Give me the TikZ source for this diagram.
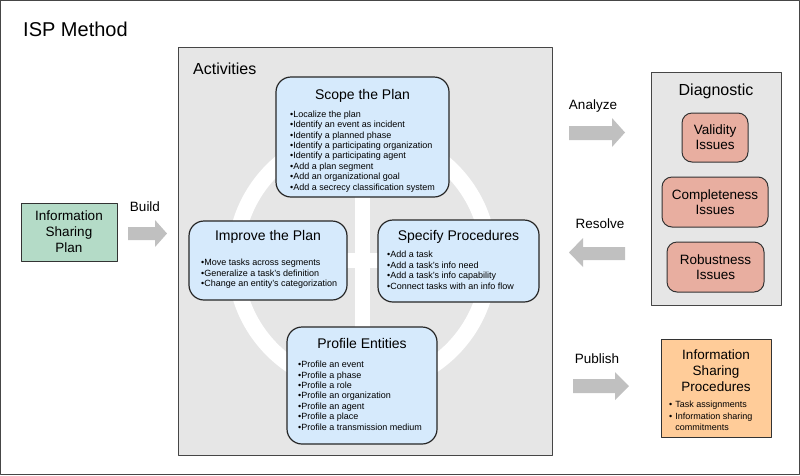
\documentclass[tikz,border=0pt]{standalone}
\usepackage{fontspec}
\setmainfont{Liberation Sans}
\usetikzlibrary{positioning}

\definecolor{panelgray}{RGB}{230,230,230}
\definecolor{frameline}{RGB}{70,70,70}
\definecolor{actblue}{RGB}{214,234,252}
\definecolor{plangreen}{RGB}{180,219,199}
\definecolor{issuered}{RGB}{232,174,160}
\definecolor{procorange}{RGB}{255,204,153}
\definecolor{arrowgray}{RGB}{192,192,192}

\begin{document}
\begin{tikzpicture}[x=1pt, y=-1pt, line join = round,
  panel/.style={draw=frameline, fill=panelgray, line width=1pt},
  activity/.style={draw=black!85, fill=actblue, rounded corners=15pt, line width=1.2pt, inner sep=0pt},
  acttitle/.style={font=\fontsize{14}{16}\selectfont, anchor=base, inner sep=0pt},
  actitems/.style={font=\fontsize{9}{10.4}\selectfont, align=left, anchor=base west, inner sep=0pt},
  issue/.style={draw=black!80, fill=issuered, rounded corners=10pt, line width=1pt, align=center,
    font=\fontsize{13.5}{15}\selectfont, inner sep=0pt},
  flowlabel/.style={font=\fontsize{13.5}{15}\selectfont, anchor=base, inner sep=0pt},
  blockarrow/.style={fill=arrowgray}]

\useasboundingbox (0,0) rectangle (800,475);
\draw[frameline, line width=1pt] (0.5,0.5) rectangle (799.5,474.5); % outer frame

% title
\node[font=\fontsize{20}{22}\selectfont, anchor=base west, inner sep=0pt] (method) at (23,36) {ISP Method};

% panels
\draw[panel] (178,47) rectangle (552,455); % activities
\draw[panel] (651,72) rectangle (781,305); % diagnostic
\node[font=\fontsize{16}{18}\selectfont, anchor=base west, inner sep=0pt] (activities) at (193,74) {Activities};
\node[font=\fontsize{16}{18}\selectfont, anchor=base, inner sep=0pt] (diagnostic) at (716,95) {Diagnostic};

% white cycle behind the activities
\draw[white, line width=16pt] (362,260) circle[radius=127pt];
\draw[white, line width=15pt] (362,133) -- (362,387); % vertical bar
\draw[white, line width=15pt] (235,260) -- (489,260); % horizontal bar

% activity boxes
\node[activity, minimum width=173pt, minimum height=120pt] (scope) at (362.5,137) {};
\node[activity, minimum width=158pt, minimum height=79pt] (improve) at (268,260.5) {};
\node[activity, minimum width=161pt, minimum height=82pt] (specify) at (458.5,261) {};
\node[activity, minimum width=150pt, minimum height=117pt] (profile) at (362,385.5) {};

% activity titles
\node[acttitle] (scope title) at (362.5,99) {Scope the Plan};
\node[acttitle] (improve title) at (268,240) {Improve the Plan};
\node[acttitle] (specify title) at (458.5,240) {Specify Procedures};
\node[acttitle] (profile title) at (362,348) {Profile Entities};

% activity items (base = last line)
\node[actitems] (scope items) at (290,190) {\textbullet Localize the plan\\\textbullet Identify an event as incident\\\textbullet Identify a planned phase\\\textbullet Identify a participating organization\\\textbullet Identify a participating agent\\\textbullet Add a plan segment\\\textbullet Add an organizational goal\\\textbullet Add a secrecy classification system};
\node[actitems] (improve items) at (201,286.5) {\textbullet Move tasks across segments\\\textbullet Generalize a task's definition\\\textbullet Change an entity's categorization};
\node[actitems] (specify items) at (387,289) {\textbullet Add a task\\\textbullet Add a task's info need\\\textbullet Add a task's info capability\\\textbullet Connect tasks with an info flow};
\node[actitems] (profile items) at (298,430) {\textbullet Profile an event\\\textbullet Profile a phase\\\textbullet Profile a role\\\textbullet Profile an organization\\\textbullet Profile an agent\\\textbullet Profile a place\\\textbullet Profile a transmission medium};

% input plan
\node[draw=black!80, fill=plangreen, line width=1pt, minimum width=96pt, minimum height=58pt, align=center,
  font=\fontsize{13.5}{16}\selectfont, inner sep=0pt] (plan) at (69,232) {Information\\Sharing\\Plan};

% diagnostic issues
\node[issue, minimum width=66pt, minimum height=49pt] (validity) at (715,137.5) {Validity\\Issues};
\node[issue, minimum width=106pt, minimum height=50pt] (completeness) at (715,202) {Completeness\\Issues};
\node[issue, minimum width=97pt, minimum height=50pt] (robustness) at (715.5,267) {Robustness\\Issues};

% output procedures
\node[draw=black!80, fill=procorange, line width=1pt, minimum width=110pt, minimum height=98pt, inner sep=0pt] (procedures) at (716,388) {};
\node[font=\fontsize{13.5}{16}\selectfont, align=center, anchor=base, inner sep=0pt] (procedures title) at (716,391) {Information\\Sharing\\Procedures};
\node[font=\fontsize{9}{11.5}\selectfont, anchor=north west, inner sep=0pt] (procedures items) at (669,399.5)
  {\begin{tabular}{@{}l@{\hspace{3pt}}l@{}}\textbullet & Task assignments\\ \textbullet & Information sharing\\ & commitments\end{tabular}};

% flow labels
\node[flowlabel] (build) at (145,211) {Build};
\node[flowlabel] (analyze) at (593,109) {Analyze};
\node[flowlabel] (resolve) at (600,228) {Resolve};
\node[flowlabel] (publish) at (597,363) {Publish};

% block arrows
\fill[blockarrow] (128,227) -- (155,227) -- (155,220) -- (167,233.5) -- (155,247) -- (155,240) -- (128,240) -- cycle; % build
\fill[blockarrow] (569,126) -- (612,126) -- (612,118) -- (625,132.5) -- (612,147) -- (612,140) -- (569,140) -- cycle; % analyze
\fill[blockarrow] (625,247) -- (583,247) -- (583,238) -- (569,252.5) -- (583,267) -- (583,260) -- (625,260) -- cycle; % resolve
\fill[blockarrow] (573,379) -- (615,379) -- (615,372) -- (629,386) -- (615,400) -- (615,393) -- (573,393) -- cycle; % publish

\end{tikzpicture}
\end{document}
